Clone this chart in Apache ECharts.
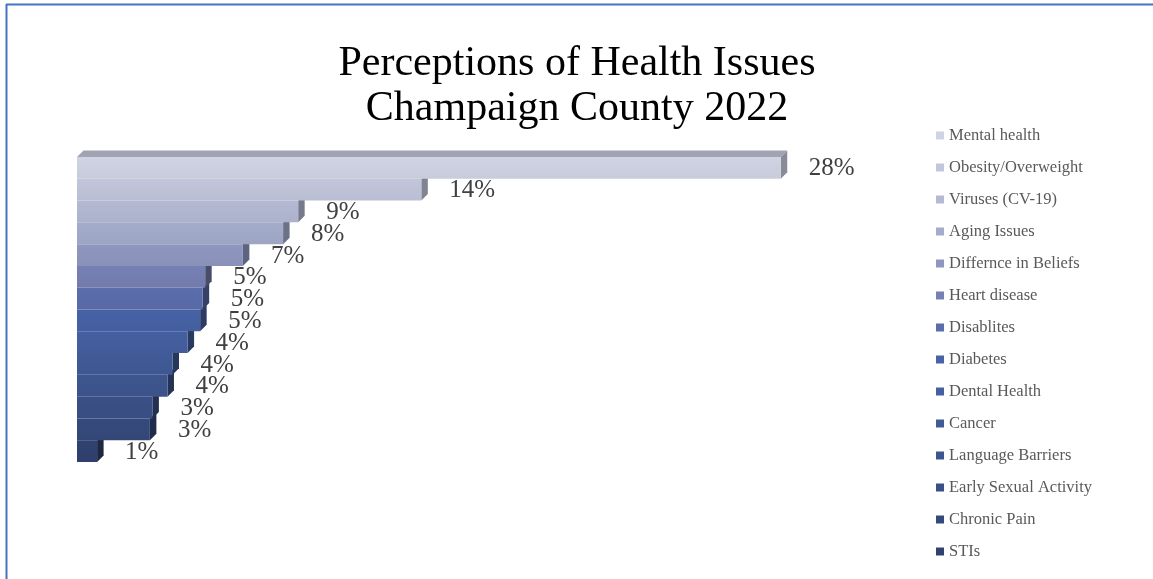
<!DOCTYPE html>
<html>
<head>
<meta charset="utf-8">
<script src="https://cdn.jsdelivr.net/npm/echarts@6/dist/echarts.min.js"></script>
<style>html,body{margin:0;padding:0;background:#fff;}#c{width:1153px;height:579px;}</style>
</head>
<body>
<div id="c"></div>
<script>
const categories = ['Mental health','Obesity/Overweight','Viruses (CV-19)','Aging Issues','Differnce in Beliefs','Heart disease','Disablites','Diabetes','Dental Health','Cancer','Language Barriers','Early Sexual Activity','Chronic Pain','STIs'];
const values = [28.0, 13.7, 8.8, 8.2, 6.6, 5.1, 5.0, 4.9, 4.4, 3.8, 3.6, 3.0, 2.9, 0.8];
const colors = ['#D0D3E3','#C2C6DB','#B4B9D4','#A4ACCB','#8F97C0','#7780B3','#5C6DAD','#4763A6','#4560A0','#415B98','#3D568F','#3A5086','#354A7C','#304270'];

function shade(hex, f) {
  const n = parseInt(hex.slice(1), 16);
  const r = Math.round(((n >> 16) & 255) * f), g = Math.round(((n >> 8) & 255) * f), b = Math.round((n & 255) * f);
  return 'rgb(' + r + ',' + g + ',' + b + ')';
}

const D = 6.5;
const series = categories.map((name, i) => ({
  name: name,
  type: 'custom',
  z: 10 + (categories.length - i),
  itemStyle: { color: colors[i] },
  data: [[values[i], i]],
  encode: { x: 0, y: 1 },
  renderItem: function (params, api) {
    const v = api.value(0), c = api.value(1);
    const start = api.coord([0, c]);
    const end = api.coord([v, c]);
    const h = api.size([0, 1])[1];
    const x0 = start[0], x1 = end[0];
    const yT = end[1] - h / 2, yB = end[1] + h / 2;
    const col = colors[i];
    const children = [
      { type: 'polygon', shape: { points: [[x1, yT], [x1 + D, yT - D], [x1 + D, yB - D], [x1, yB]] },
        style: { fill: shade(col, i < 5 ? 0.66 : 0.6) } },
      { type: 'rect', shape: { x: x0, y: yT, width: x1 - x0, height: h },
        style: { fill: { type: 'linear', x: 0, y: 0, x2: 0, y2: 1, colorStops: [{ offset: 0, color: shade(col, 1.0) }, { offset: 1, color: shade(col, 0.96) }] } } },
      { type: 'text', style: { x: x1 + 28, y: end[1] + 1, text: Math.round(v) + '%', fill: '#404040',
        font: '25px "Liberation Serif"', textAlign: 'left', textVerticalAlign: 'middle' } }
    ];
    if (i === 0) {
      children.push({ type: 'polygon', shape: { points: [[x0, yT], [x0 + D, yT - D], [x1 + D, yT - D], [x1, yT]] },
        style: { fill: '#A0A3B2' } });
    }
    return { type: 'group', children: children };
  }
}));

const chart = echarts.init(document.getElementById('c'));
chart.setOption({
  animation: false,
  backgroundColor: '#ffffff',
  title: {
    text: 'Perceptions of Health Issues\nChampaign County 2022',
    left: 572, top: 36, textAlign: 'center',
    textStyle: { fontFamily: 'Liberation Serif', fontSize: 42, fontWeight: 'normal', color: '#000000', lineHeight: 45 }
  },
  legend: {
    orient: 'vertical', left: 931, top: 122, height: 450,
    itemWidth: 8, itemHeight: 8, itemGap: 15,
    icon: 'rect',
    textStyle: { fontFamily: 'Liberation Serif', fontSize: 16.5, color: '#595959', lineHeight: 16 },
    data: categories
  },
  grid: { left: 77, top: 157, width: 754, height: 305 },
  xAxis: { type: 'value', min: 0, max: 30, show: false },
  yAxis: { type: 'category', data: categories, inverse: true, show: false },
  graphic: [
    { type: 'line', shape: { x1: 6.5, y1: 4, x2: 6.5, y2: 579 }, style: { stroke: '#4472C4', lineWidth: 2 } },
    { type: 'line', shape: { x1: 6, y1: 4.5, x2: 1153, y2: 4.5 }, style: { stroke: '#4472C4', lineWidth: 2 } }
  ],
  series: series
});
</script>
</body>
</html>
